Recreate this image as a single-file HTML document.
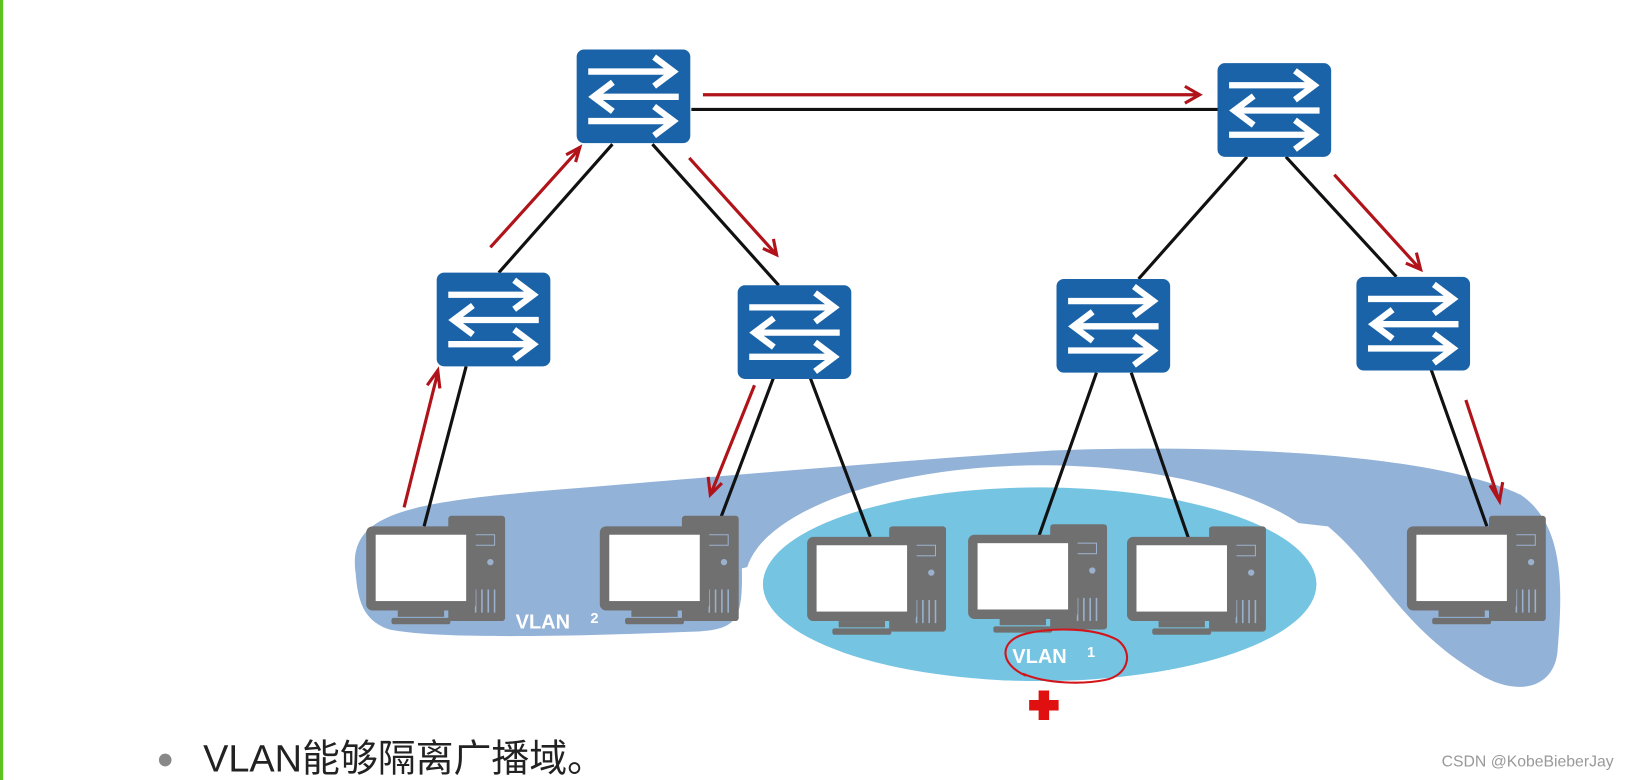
<!DOCTYPE html>
<html><head><meta charset="utf-8"><style>html,body{margin:0;padding:0;background:#fff;width:1650px;height:780px;overflow:hidden}</style></head>
<body>
<svg width="1650" height="780" viewBox="0 0 1568 741" preserveAspectRatio="none" xmlns="http://www.w3.org/2000/svg">
<defs>
<g id="sw">
<rect x="0" y="0" width="108" height="89" rx="7" fill="#1a63a8"/>
<g stroke="#fff" stroke-width="6" fill="none" stroke-linecap="square">
<path d="M14 21H90M76 9L92 21L76 33"/>
<path d="M18 45H94M32 33L16 45L32 57"/>
<path d="M14 68H90M76 56L92 68L76 80"/>
</g>
</g>
<g id="pc">
<rect x="78" y="-10" width="54" height="100" rx="3" fill="#707070"/>
<rect x="86" y="8" width="36" height="10" fill="none" stroke="#9ab0cc" stroke-width="1"/>
<circle cx="118" cy="34" r="3" fill="#9ab0cc"/>
<g stroke="#9ab0cc" stroke-width="1.5"><path d="M104 60V82M110 60V82M116 60V82M122 60V82"/></g>
<rect x="0" y="0" width="104" height="80" rx="6" fill="#707070"/>
<rect x="9" y="8" width="86" height="63" fill="#fff"/>
<rect x="30" y="80" width="44" height="6" fill="#707070"/>
<rect x="24" y="87" width="56" height="6" rx="2" fill="#707070"/>
</g>
</defs>
<rect x="0" y="0" width="3" height="741" fill="#5cc21f"/>
<path d="M338,545 C330,490 380,478 520,466 C660,455 820,440 1000,428 C1160,422 1360,430 1445,470 C1490,500 1484,570 1480,620 C1476,655 1440,662 1405,640 C1330,595 1310,540 1262,500 L990,470 L705,540 C706,590 700,598 660,600 C560,604 420,608 370,598 C345,590 340,570 338,545 Z" fill="#93b2d8"/>
<ellipse cx="990" cy="552" rx="282" ry="110" fill="#fff"/>
<ellipse cx="988" cy="555" rx="263" ry="92" fill="#74c4e2"/>
<g stroke="#111" stroke-width="3" fill="none">
<path d="M657 104H1157"/>
<path d="M582 137L474 259M620 137L740 271M1185 149L1082 265M1222 149L1327 263"/>
<path d="M443 348L403 500M735 359L680 505M770 359L827 510M1042 354L987 510M1075 354L1130 513M1360 351L1413 500"/>
</g>
<g stroke="#b0141a" stroke-width="3" fill="none">
<path d="M668 90H1140M1126 82L1140 90L1126 98"/>
<path d="M384 482L416 354M406 366L416 352L418 369"/>
<path d="M466 235L550 142M538 147L551 140L547 154"/>
<path d="M655 150L737 241M735 227L738 242L725 236"/>
<path d="M717 366L676 468M673 453L675 470L686 459"/>
<path d="M1268 166L1349 255M1346 240L1350 256L1336 250"/>
<path d="M1393 380L1424 474M1416 461L1425 476L1428 458"/>
</g>
<use href="#sw" x="548" y="47"/>
<use href="#sw" x="1157" y="60"/>
<use href="#sw" x="415" y="259"/>
<use href="#sw" x="701" y="271"/>
<use href="#sw" x="1004" y="265"/>
<use href="#sw" x="1289" y="263"/>
<use href="#pc" x="348" y="500"/>
<use href="#pc" x="570" y="500"/>
<use href="#pc" x="767" y="510"/>
<use href="#pc" x="920" y="508"/>
<use href="#pc" x="1071" y="510"/>
<use href="#pc" x="1337" y="500"/>
<g font-family="Liberation Sans, sans-serif" font-weight="bold" fill="#fff">
<text x="490" y="597" font-size="19">VLAN</text><text x="561" y="592" font-size="14">2</text>
<text x="962" y="630" font-size="19">VLAN</text><text x="1033" y="624" font-size="14">1</text>
</g>
<path d="M975,642 C948,630 950,608 975,602 C1000,596 1040,596 1062,608 C1078,620 1072,642 1050,646 C1030,650 995,650 972,640" fill="none" stroke="#d2151a" stroke-width="2"/>
<path d="M987,656h10v9h9v10h-9v9h-10v-9h-9v-10h9z" fill="#e01010"/>
<circle cx="157" cy="722" r="6" fill="#888"/>
<text x="193" y="733" font-family="Liberation Sans, Noto Sans CJK SC, sans-serif" font-size="36" fill="#222">VLAN能够隔离广播域。</text>
<text x="1370" y="728" font-family="Liberation Sans, sans-serif" font-size="15" fill="#999">CSDN @KobeBieberJay</text>
</svg>
</body></html>
